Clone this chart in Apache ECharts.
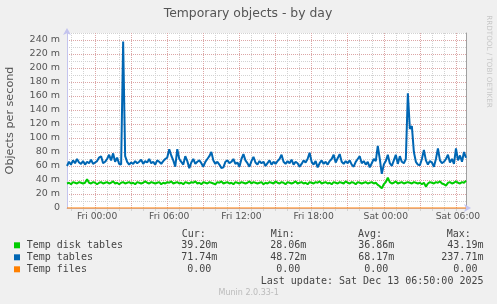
<!DOCTYPE html>
<html><head><meta charset="utf-8">
<script src="https://cdn.jsdelivr.net/npm/echarts@6/dist/echarts.min.js"></script>
<style>html,body{margin:0;padding:0;background:#f0f0f0;}#c{width:497px;height:304px;}</style>
</head><body><div id="c"></div>
<script>
// ---- data ----
const chartTitle = 'Temporary objects - by day';
const yAxisTitle = 'Objects per second';
const seriesNames = ['Temp disk tables', 'Temp tables', 'Temp files'];
const seriesColors = ['#00cc00', '#0066b3', '#ff8000'];
const curVals = ['39.20m', '71.74m', '0.00'];
const minVals = ['28.06m', '48.72m', '0.00'];
const avgVals = ['36.86m', '68.17m', '0.00'];
const maxVals = ['43.19m', '237.71m', '0.00'];
const lastUpdate = 'Last update: Sat Dec 13 06:50:00 2025';
const versionText = 'Munin 2.0.33-1';
const sideText = 'RRDTOOL / TOBI OETIKER';

// 10-minute samples from Thu 21:40 to Sat 06:50
const dayNames = ['Thu', 'Fri', 'Sat'];
const times = [];
for (let k = 0; k < 200; k++) {
  const t = 21 * 60 + 40 + 10 * k;
  const d = Math.floor(t / 1440), m = t % 1440;
  const hh = String(Math.floor(m / 60)).padStart(2, '0');
  const mm = String(m % 60).padStart(2, '0');
  times.push(dayNames[d] + ' ' + hh + ':' + mm);
}

const tempDiskTables = [
  35,36,34,37,36,35,37,36,35,36,
  41,36,35,37,36,34,36,37,35,36,
  37,35,36,38,35,36,34,36,37,35,
  36,37,35,36,34,37,36,35,36,38,
  36,35,37,36,35,36,37,34,36,35,
  37,36,38,35,36,37,35,36,34,37,
  36,35,37,36,38,35,36,34,37,36,
  35,37,36,35,34,37,36,38,35,36,
  37,35,36,34,37,36,35,37,36,35,
  36,38,35,37,36,35,36,37,34,36,
  35,37,36,35,38,36,35,37,36,34,
  37,36,35,36,38,35,36,37,35,36,
  34,37,36,35,37,36,38,35,36,37,
  35,36,34,37,36,35,37,36,35,38,
  36,35,37,36,34,37,36,35,36,37,
  35,36,37,35,36,33,31,28.06,34,37,
  43.19,37,35,36,38,35,36,37,35,36,
  37,36,35,37,36,35,36,34,36,30.5,
  35,37,36,35,37,36,38,35,34,32,
  36,37,35,36,38,36,35,37,36,39.2
];
const tempTables = [
  60,66,62,68,64,70,65,63,67,62,
  66,64,69,63,65,67,72,74,64,66,
  70,76,68,78,66,72,63,62,237.71,74,
  66,62,65,63,67,64,66,69,63,67,
  65,70,64,66,62,68,66,63,67,70,
  72,84,75,68,59,84,70,66,62,74,
  67,57,65,70,63,66,68,64,59,66,
  70,74,80,68,63,66,62,57,58,66,
  68,64,66,70,63,65,59,70,77,68,
  64,59,67,73,65,62,67,64,66,60,
  64,68,62,66,63,67,70,76,66,63,
  67,64,69,62,66,64,59,63,68,65,
  70,79,66,62,67,58,64,68,63,66,
  62,67,70,76,65,71,77,66,63,67,
  64,68,62,59,66,70,74,64,67,62,
  66,58,64,70,67,88.6,70,48.72,62,67,
  76,64,60,68,76,63,74,66,64,70,
  163.8,113,117,80,66,62,61,70,83,68,
  62,67,65,59,70,85,68,64,66,70,
  76,65,70,63,85,68,75,66,80,71.74
];
const tempFiles = [
  0,0,0,0,0,0,0,0,0,0, 0,0,0,0,0,0,0,0,0,0,
  0,0,0,0,0,0,0,0,0,0, 0,0,0,0,0,0,0,0,0,0,
  0,0,0,0,0,0,0,0,0,0, 0,0,0,0,0,0,0,0,0,0,
  0,0,0,0,0,0,0,0,0,0, 0,0,0,0,0,0,0,0,0,0,
  0,0,0,0,0,0,0,0,0,0, 0,0,0,0,0,0,0,0,0,0,
  0,0,0,0,0,0,0,0,0,0, 0,0,0,0,0,0,0,0,0,0,
  0,0,0,0,0,0,0,0,0,0, 0,0,0,0,0,0,0,0,0,0,
  0,0,0,0,0,0,0,0,0,0, 0,0,0,0,0,0,0,0,0,0,
  0,0,0,0,0,0,0,0,0,0, 0,0,0,0,0,0,0,0,0,0,
  0,0,0,0,0,0,0,0,0,0, 0,0,0,0,0,0,0,0,0,0
];
const seriesData = [tempDiskTables, tempTables, tempFiles];

// ---- styles ----
const GRID_RED = '#dca6a6';
const GRID_GRAY = '#d2d2d2';
const AXIS_COLOR = '#c4c4ee';
const TXT = '#555';
const MONO = '"DejaVu Sans Mono", monospace';
const SANS = '"DejaVu Sans", sans-serif';

const chart = echarts.init(document.getElementById('c'), null, {renderer: 'canvas'});

const graphics = [];
graphics.push({type: 'text', x: 248, y: 14, style: {text: chartTitle, font: '12.4px ' + SANS, fill: TXT, align: 'center', verticalAlign: 'middle'}});
graphics.push({type: 'text', x: 488.5, y: 61.5, rotation: -Math.PI / 2, style: {text: sideText, font: '7.2px ' + SANS, fill: '#c8c8c8', align: 'center', verticalAlign: 'middle'}});

const headerY = 234, rowY = [245.3, 257.3, 269.3];
const headers = [['Cur:', 181.7], ['Min:', 270.7], ['Avg:', 358], ['Max:', 446.7]];
headers.forEach(h => graphics.push({type: 'text', x: h[1], y: headerY, style: {text: h[0], font: '10px ' + MONO, fill: '#444', align: 'left', verticalAlign: 'middle'}}));
const colStarts = [175.2, 264.2, 352.2, 441.3];
const fmt = s => s.endsWith('m') ? s.padStart(7, ' ') : (s + ' ').padStart(7, ' ');
seriesNames.forEach((name, i) => {
  graphics.push({type: 'rect', shape: {x: 14, y: rowY[i] - 3, width: 6, height: 6}, style: {fill: seriesColors[i]}});
  graphics.push({type: 'text', x: 26.7, y: rowY[i], style: {text: name, font: '10px ' + MONO, fill: '#444', align: 'left', verticalAlign: 'middle'}});
  [curVals, minVals, avgVals, maxVals].forEach((arr, c) => {
    graphics.push({type: 'text', x: colStarts[c], y: rowY[i], style: {text: fmt(arr[i]), font: '10px ' + MONO, fill: '#444', align: 'left', verticalAlign: 'middle'}});
  });
});
graphics.push({type: 'text', x: 483.5, y: 281.7, style: {text: lastUpdate, font: '10px ' + MONO, fill: '#444', align: 'right', verticalAlign: 'middle'}});
graphics.push({type: 'text', x: 248.7, y: 292.7, style: {text: versionText, font: '8px ' + SANS, fill: '#bbb', align: 'center', verticalAlign: 'middle'}});

const isHour = (idx, v) => /:00$/.test(v);
const isLabel = (idx, v) => /(00|06|12|18):00$/.test(v);

chart.setOption({
  animation: false,
  backgroundColor: '#f0f0f0',
  grid: {left: 67, top: 33, width: 399, height: 175, show: true, backgroundColor: '#ffffff', borderWidth: 0, containLabel: false, outerBoundsMode: 'none'},
  xAxis: {
    type: 'category', data: times, boundaryGap: false,
    axisLine: {show: true, lineStyle: {color: AXIS_COLOR, width: 1}, symbol: ['none', 'arrow'], symbolSize: [6, 7], symbolOffset: [0, 5]},
    axisTick: {show: true, interval: isHour, length: 3, lineStyle: {color: GRID_GRAY}},
    axisLabel: {interval: isLabel, color: TXT, fontFamily: 'DejaVu Sans', fontSize: 9.2, margin: 4, padding: [0, 0, 0, 4]},
    splitLine: {show: true, interval: isHour, lineStyle: {color: [GRID_GRAY, GRID_GRAY, GRID_RED], width: 1, type: [1, 1]}}
  },
  yAxis: [{
    type: 'value', min: 0, max: 250, interval: 10,
    name: yAxisTitle, nameLocation: 'middle', nameGap: 51, nameRotate: 90,
    nameTextStyle: {color: TXT, fontFamily: 'DejaVu Sans', fontSize: 11.2},
    axisLine: {show: true, lineStyle: {color: AXIS_COLOR, width: 1}, symbol: ['none', 'arrow'], symbolSize: [6, 7], symbolOffset: [0, 5]},
    axisTick: {show: false},
    axisLabel: {color: TXT, fontFamily: 'DejaVu Sans', fontSize: 9.5, margin: 7,
      formatter: v => (v % 20 === 0 && v <= 240) ? (v === 0 ? '0' : v + ' m') : ''},
    splitLine: {show: true, lineStyle: {color: [GRID_RED, GRID_GRAY], width: 1, type: [1, 1]}}
  }, {
    type: 'value', min: 0, max: 250, position: 'right',
    axisLine: {show: true, lineStyle: {color: '#a0a0a0', width: 1}},
    axisTick: {show: false}, axisLabel: {show: false}, splitLine: {show: false}
  }],
  series: seriesNames.map((n, i) => ({
    name: n, type: 'line', data: seriesData[i], showSymbol: false, symbol: 'none', clip: false,
    lineStyle: {color: seriesColors[i], width: i === 2 ? 1.2 : 2}, itemStyle: {color: seriesColors[i]},
    z: 2 + i
  })),
  graphic: graphics
});
</script></body></html>
